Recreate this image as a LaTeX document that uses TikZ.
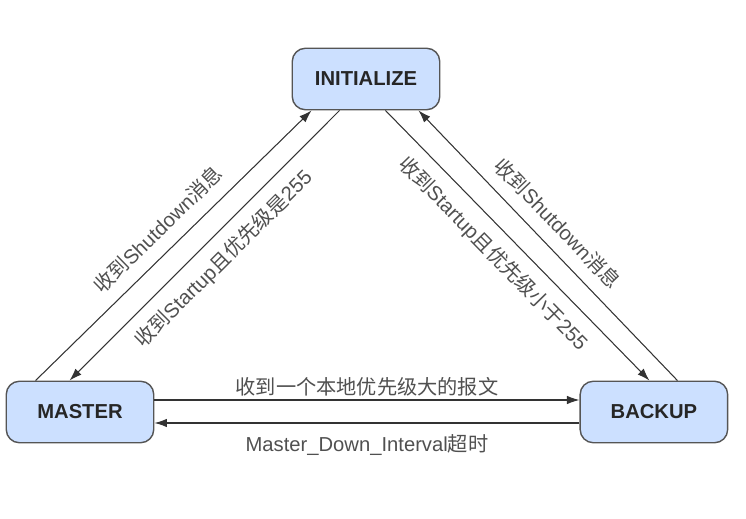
\documentclass[tikz,border=0pt]{standalone}
\usepackage{fontspec}
\setmainfont{Liberation Sans}
\newfontfamily\cjk{Noto Sans CJK SC}
\newcommand{\zh}[1]{{\cjk #1}}
\usepackage{tikz}
\usetikzlibrary{arrows.meta,positioning}
\definecolor{boxfill}{RGB}{204,224,255}
\definecolor{boxline}{RGB}{85,85,85}
\definecolor{lblgray}{RGB}{80,80,80}

\begin{document}
\begin{tikzpicture}[
  state/.style={rectangle,rounded corners=7.5pt,draw=boxline,fill=boxfill,thick,
                minimum width=2.95cm,minimum height=1.23cm,
                font=\fontsize{11.5}{13}\selectfont\bfseries,text=black!85},
  lbl/.style={font=\fontsize{11.5}{13}\selectfont,text=lblgray,inner sep=2pt},
  arr/.style={-{Latex[length=2.5mm,width=1.7mm]},color=black!80,semithick}
]
  \useasboundingbox (0,0) rectangle (14.92,10.36);

  \node[state] (init) at (7.32,8.78) {INITIALIZE};
  \node[state] (master) at (1.60,2.12) {MASTER};
  \node[state,right=8.5cm of master] (backup) {BACKUP};

% ---------------- INITIALIZE <-> MASTER ----------------
  \draw[arr] ([xshift=0.6cm]master.north west) --
    node[lbl,sloped,above=5pt,pos=0.5] (shutm) {\zh{收到}Shutdown\zh{消息}}
    ([xshift=0.4cm]init.south west);
  \draw[arr] ([xshift=0.96cm]init.south west) --
    node[lbl,sloped,below=5pt,pos=0.49] (startm) {\zh{收到}Startup\zh{且优先级是}255}
    ([xshift=1.28cm]master.north west);

% ---------------- INITIALIZE <-> BACKUP ----------------
  \draw[arr] ([xshift=-1.1cm]init.south east) --
    node[lbl,sloped,below=5pt,pos=0.47] (startb) {\zh{收到}Startup\zh{且优先级小于}255}
    ([xshift=1.4cm]backup.north west);
  \draw[arr] ([xshift=1.96cm]backup.north west) --
    node[lbl,sloped,above=5pt,pos=0.525] (shutb) {\zh{收到}Shutdown\zh{消息}}
    ([xshift=-0.44cm]init.south east);

% ---------------- MASTER <-> BACKUP ----------------
  \draw[arr] ([yshift=0.24cm]master.east) --
    node[lbl,above=0pt] (prio) {\zh{收到一个本地优先级大的报文}}
    ([yshift=0.24cm]backup.west);
  \draw[arr] ([yshift=-0.22cm]backup.west) --
    node[lbl,below=4pt] (tmo) {Master\_Down\_Interval\zh{超时}}
    ([yshift=-0.22cm]master.east);
\end{tikzpicture}
\end{document}
